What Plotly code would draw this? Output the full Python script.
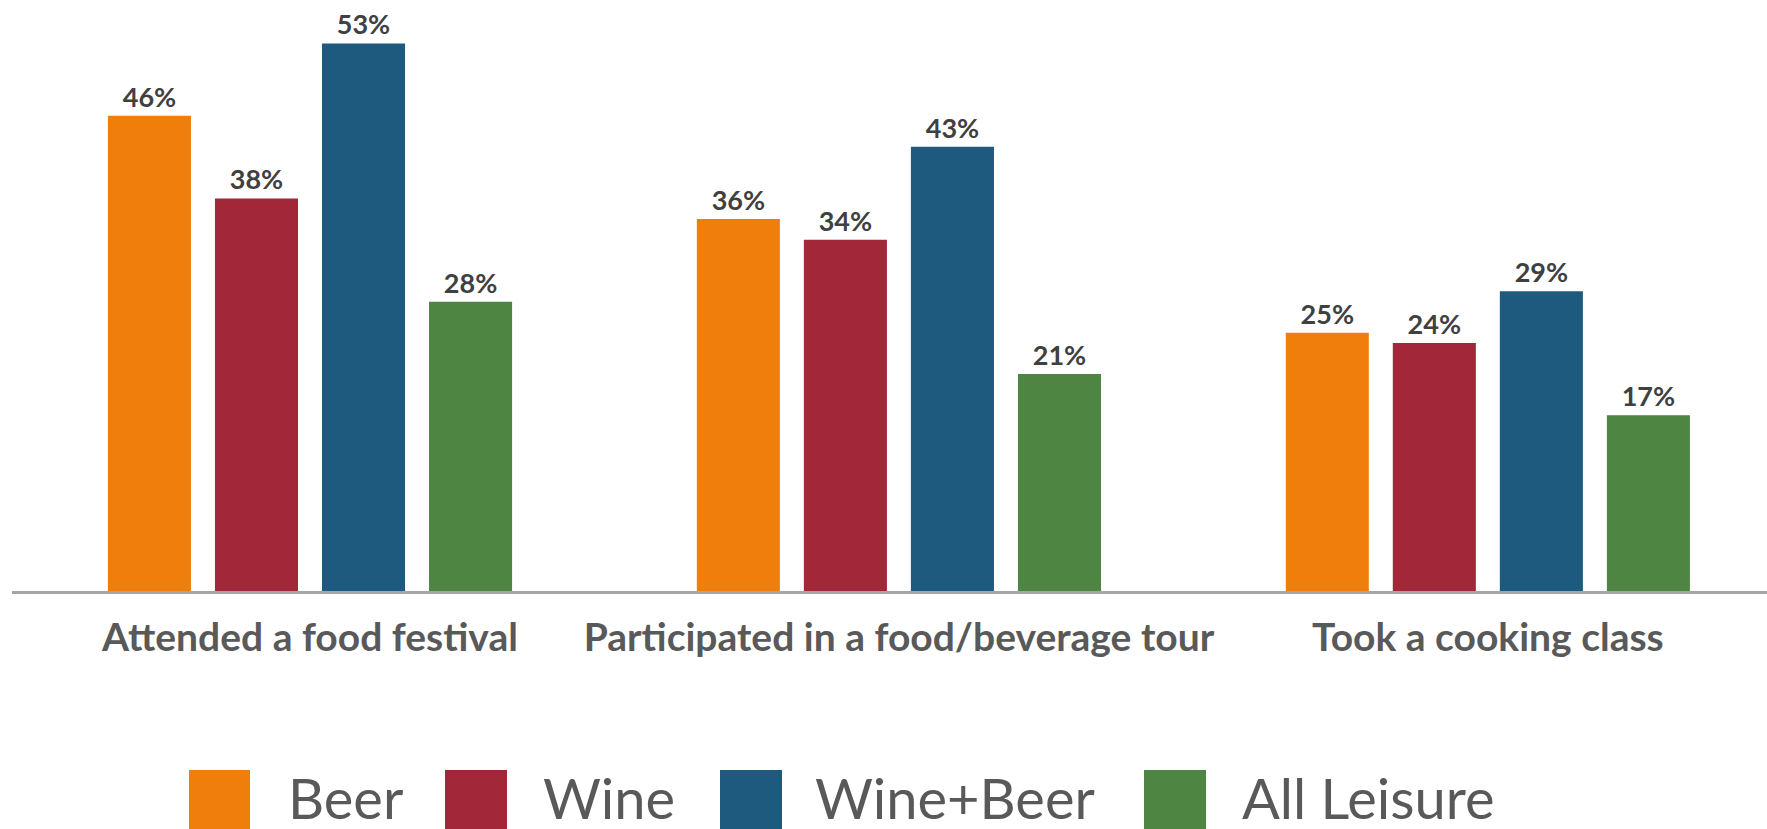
import plotly.graph_objects as go

# Survey results: share of respondents per activity, by traveller segment
categories = ["Attended a food festival", "Participated in a food/beverage tour", "Took a cooking class"]
series_names = ["Beer", "Wine", "Wine+Beer", "All Leisure"]
beer = [46, 36, 25]
wine = [38, 34, 24]
wine_beer = [53, 43, 29]
all_leisure = [28, 21, 17]

colors = ["#EF7F0A", "#A12739", "#1E5A7D", "#4E8542"]
values = [beer, wine, wine_beer, all_leisure]

W, H = 1767, 829
ML, MR, MT, MB = 12, 0, 0, 238

fig = go.Figure()
for name, vals, col in zip(series_names, values, colors):
    fig.add_trace(go.Bar(
        name=name,
        x=categories,
        y=vals,
        marker=dict(color=col, line=dict(width=0)),
        text=[f"{v}%" for v in vals],
        textposition="outside",
        textfont=dict(family="Lato", size=27, color="#404040", weight=700),
        cliponaxis=False,
        showlegend=False,
    ))

# Custom large legend drawn below the chart (pixel -> paper coordinates)
plot_w = W - ML - MR
plot_h = H - MT - MB

def px_x(p):
    return (p - ML) / plot_w

def px_y(p):
    return (H - MB - p) / plot_h

legend_sq = [(189, 250), (445, 507), (720, 782), (1144, 1206)]
legend_txt = [286, 541, 813, 1240]
shapes = []
annotations = []
for (x0, x1), tx, name, col in zip(legend_sq, legend_txt, series_names, colors):
    shapes.append(dict(type="rect", xref="paper", yref="paper",
                       x0=px_x(x0), x1=px_x(x1), y0=px_y(835), y1=px_y(770),
                       fillcolor=col, line=dict(width=0), layer="above"))
    annotations.append(dict(xref="paper", yref="paper", x=px_x(tx), y=px_y(797),
                            xanchor="left", yanchor="middle", showarrow=False,
                            text=name, height=60, valign="middle",
                            font=dict(family="Lato", size=56, color="#595959")))

fig.update_layout(
    width=W, height=H,
    margin=dict(l=ML, r=MR, t=MT, b=MB),
    paper_bgcolor="white", plot_bgcolor="white",
    barmode="group",
    bargap=0.273,
    bargroupgap=0.224,
    shapes=shapes,
    annotations=annotations,
    xaxis=dict(
        range=[-0.506, 2.474],
        showline=True, linecolor="#A6A6A6", linewidth=3,
        showgrid=False, zeroline=False,
        ticks="", ticklabelstandoff=10,
        tickfont=dict(family="Lato", size=39, color="#595959", weight=700),
    ),
    yaxis=dict(
        range=[0, 57.2],
        visible=False, showgrid=False, zeroline=False,
    ),
)

fig.write_html("out.html")
